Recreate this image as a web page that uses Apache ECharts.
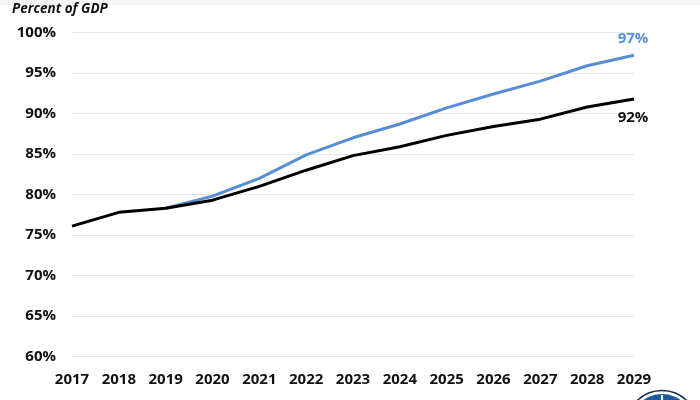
<!DOCTYPE html>
<html><head><meta charset="utf-8">
<style>html,body{margin:0;padding:0;background:#fff}#c{width:700px;height:400px}</style>
<script src="https://cdn.jsdelivr.net/npm/echarts@6/dist/echarts.min.js"></script></head>
<body><div id="c"></div>
<script>
const years=['2017','2018','2019','2020','2021','2022','2023','2024','2025','2026','2027','2028','2029'];
const blackSeries=[76.1,77.8,78.3,79.3,81.0,83.0,84.8,85.9,87.3,88.4,89.3,90.8,91.8];
const blueSeries=[null,null,78.3,79.8,82.0,84.9,87.0,88.7,90.7,92.4,94.0,95.9,97.2];
const font='"Open Sans"';
const chart=echarts.init(document.getElementById('c'),null,{renderer:'canvas'});
chart.setOption({
  animation:false,
  backgroundColor:'#fff',
  grid:{left:72,right:66,top:32.5,bottom:43.5,containLabel:false},
  xAxis:{type:'category',data:years,boundaryGap:false,
    axisLine:{show:false},axisTick:{show:false},
    axisLabel:{color:'#111',fontFamily:font,fontWeight:'bold',fontSize:15,margin:16,interval:0,hideOverlap:false}},
  yAxis:{type:'value',min:60,max:100,interval:5,
    axisLine:{show:false},axisTick:{show:false},
    splitLine:{lineStyle:{color:'#e6e6e6',width:1}},
    axisLabel:{color:'#111',fontFamily:font,fontWeight:'bold',fontSize:15,margin:16,padding:[3,0,0,0],formatter:'{value}%'}},
  graphic:[
    {type:'rect',shape:{x:0,y:0,width:700,height:5},style:{fill:'#f5f5f5'},silent:true},
    {type:'text',left:12,top:2,style:{text:'Percent of GDP',fontFamily:font,fontStyle:'italic',fontWeight:'bold',fontSize:13.5,fill:'#111'}},
    {type:'circle',shape:{cx:662,cy:426,r:35.5},style:{fill:'#fff',stroke:'#12294f',lineWidth:1.5},silent:true},
    {type:'circle',shape:{cx:662,cy:426,r:32},style:{fill:'#1f5a9e'},silent:true},
    {type:'rect',shape:{x:661,y:395,width:2,height:5},style:{fill:'#fff'},silent:true}
  ],
  series:[
    {name:'Blue',type:'line',data:blueSeries,showSymbol:false,lineStyle:{color:'#558ed5',width:3},
     endLabel:{show:true,formatter:'97%',color:'#558ed5',fontFamily:font,fontWeight:'bold',fontSize:15,align:'center',verticalAlign:'middle',offset:[-9,-16]}},
    {name:'Black',type:'line',data:blackSeries,showSymbol:false,lineStyle:{color:'#000',width:3},
     endLabel:{show:true,formatter:'92%',color:'#111',fontFamily:font,fontWeight:'bold',fontSize:15,align:'center',verticalAlign:'middle',offset:[-9,19]}}
  ]
});
</script></body></html>
